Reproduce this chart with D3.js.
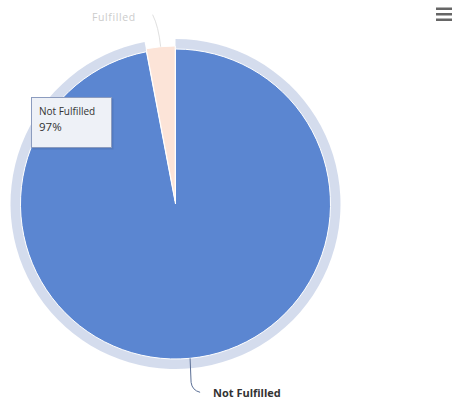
<!DOCTYPE html>
<html>
<head>
<meta charset="utf-8">
<script src="https://cdn.jsdelivr.net/npm/d3@7"></script>
<style>
  body { margin: 0; background: #fff; }
  svg { display: block; }
</style>
</head>
<body>
<div id="chart"></div>
<script>
// Data
const categories = ['Not Fulfilled', 'Fulfilled'];
const values = [97, 3];
const colors = ['#5b86d1', '#fce4d8'];

const width = 454;
const height = 401;
const cx = 175.5;
const cy = 204;
const radius = 155;
const haloSize = 10;

const svg = d3.select('#chart')
    .append('svg')
    .attr('width', width)
    .attr('height', height);

const pie = d3.pie().sort(null).value(d => d.value);
const arcs = pie(categories.map((c, i) => ({ name: c, value: values[i] })));

const arc = d3.arc().innerRadius(0).outerRadius(radius);
const halo = d3.arc().innerRadius(radius).outerRadius(radius + haloSize);

const g = svg.append('g').attr('transform', `translate(${cx},${cy})`);

// Halo around the hovered slice (Not Fulfilled)
g.append('path')
    .attr('d', halo(arcs[0]))
    .attr('fill', '#6f8cc4')
    .attr('opacity', 0.3);

// Slices (the inactive Fulfilled slice is pulled out a little)
g.selectAll('path.slice')
    .data(arcs)
    .enter()
    .append('path')
    .attr('class', 'slice')
    .attr('d', arc)
    .attr('transform', (d, i) => {
        if (i === 0) return null;
        const a = (d.startAngle + d.endAngle) / 2;
        return `translate(${Math.sin(a) * 3},${-Math.cos(a) * 3})`;
    })
    .attr('fill', (d, i) => colors[i])
    .attr('stroke', '#fff')
    .attr('stroke-width', 1);

// Data labels with connectors
function edgePoint(d, r) {
    const a = (d.startAngle + d.endAngle) / 2;
    return [Math.sin(a) * r, -Math.cos(a) * r];
}

// Not Fulfilled (bottom)
const p0 = edgePoint(arcs[0], radius);
g.append('path')
    .attr('d', `M${p0[0]},${p0[1]} L${p0[0] + 1},${p0[1] + 24} Q${p0[0] + 2},${p0[1] + 32} ${p0[0] + 10},${p0[1] + 34}`)
    .attr('fill', 'none')
    .attr('stroke', '#5b6f96')
    .attr('stroke-width', 1);

svg.append('text')
    .attr('x', 213)
    .attr('y', 397)
    .attr('font-family', '"Open Sans", sans-serif')
    .attr('font-size', 11)
    .attr('font-weight', 'bold')
    .attr('fill', '#333')
    .text(categories[0]);

// Fulfilled (top, inactive)
const p1 = edgePoint(arcs[1], radius + 3);
g.append('path')
    .attr('d', `M${p1[0]},${p1[1]} Q${p1[0] - 2},${p1[1] - 20} ${p1[0] - 8},${p1[1] - 32}`)
    .attr('fill', 'none')
    .attr('stroke', '#e0e0e0')
    .attr('stroke-width', 1);

svg.append('text')
    .attr('x', 92)
    .attr('y', 21)
    .attr('font-family', '"Open Sans", sans-serif')
    .attr('font-size', 10.5)
    .attr('letter-spacing', 0.6)
    .attr('fill', '#cccccc')
    .text(categories[1]);

// Tooltip
const tip = svg.append('g').attr('transform', 'translate(31,97)');
tip.append('rect')
    .attr('x', 1.5).attr('y', 1.5)
    .attr('width', 81).attr('height', 51)
    .attr('fill', '#000').attr('opacity', 0.08);
tip.append('rect')
    .attr('x', 0.5).attr('y', 0.5)
    .attr('width', 80).attr('height', 50)
    .attr('fill', '#eef1f7')
    .attr('stroke', '#8c9cbf')
    .attr('stroke-width', 1);
tip.append('text')
    .attr('x', 8).attr('y', 18)
    .attr('font-family', '"Open Sans", sans-serif')
    .attr('font-size', 10)
    .attr('fill', '#333')
    .text(categories[0]);
tip.append('text')
    .attr('x', 8).attr('y', 34)
    .attr('font-family', '"Open Sans", sans-serif')
    .attr('font-size', 11.5)
    .attr('fill', '#333')
    .text(values[0] + '%');

// Context menu icon
const menu = svg.append('g').attr('transform', 'translate(436,6)');
[1.5, 7, 12.5].forEach(y => {
    menu.append('rect')
        .attr('x', 0).attr('y', y)
        .attr('width', 16).attr('height', 2.5)
        .attr('fill', '#666');
});
</script>
</body>
</html>
